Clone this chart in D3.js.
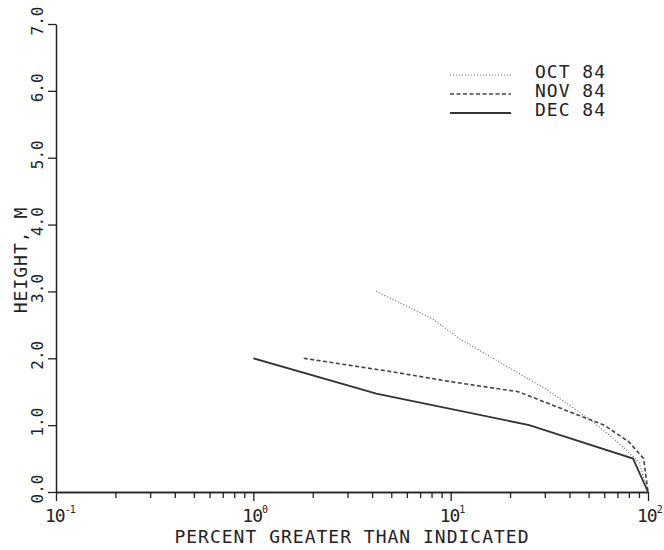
<!DOCTYPE html>
<html>
<head>
<meta charset="utf-8">
<script src="https://cdn.jsdelivr.net/npm/d3@7"></script>
<style>
body { margin: 0; background: #fff; }
text { font-family: "DejaVu Sans Mono", monospace; fill: #222; }
</style>
</head>
<body>
<script>
// values (percent greater than indicated, height in m)
var octPct = [4.2, 8, 11, 20, 30, 50, 70, 90, 100];
var octHt = [3.0, 2.6, 2.3, 1.85, 1.55, 1.1, 0.75, 0.45, 0.0];
var novPct = [1.8, 5, 10, 22, 40, 60, 80, 95, 100];
var novHt = [2.0, 1.8, 1.65, 1.5, 1.2, 1.0, 0.75, 0.5, 0.0];
var decPct = [1.0, 4.2, 25, 84, 100];
var decHt = [2.0, 1.47, 1.0, 0.5, 0.0];
var seriesNames = ['OCT 84', 'NOV 84', 'DEC 84'];
var yTicks = [0, 1, 2, 3, 4, 5, 6, 7];
var xMajor = [0.1, 1, 10, 100];
var xExp = ['-1', '0', '1', '2'];

var width = 664;
var height = 550;

var x = d3.scaleLog()
    .domain([0.1, 100])
    .range([56, 648]);

var y = d3.scaleLinear()
    .domain([0, 7])
    .range([492, 24]);

var svg = d3.select("body").append("svg")
    .attr("width", width).attr("height", height);

// minor ticks for the log axis
var xMinor = [];
[0.1, 1, 10].forEach(function (base) {
    for (var k = 2; k <= 9; k++) xMinor.push(base * k);
});

var axisStyle = function (g) {
    g.select(".domain").attr("stroke", "#222").attr("stroke-width", 1.5);
    g.selectAll(".tick line").attr("stroke", "#222").attr("stroke-width", 1.3);
};

svg.append("g")
    .attr("transform", "translate(0," + y(0) + ")")
    .call(d3.axisBottom(x).tickValues(xMinor).tickSize(6).tickFormat("").tickSizeOuter(0))
    .call(axisStyle);

svg.append("g")
    .attr("transform", "translate(0," + y(0) + ")")
    .call(d3.axisBottom(x).tickValues(xMajor).tickSize(9).tickFormat("").tickSizeOuter(0))
    .call(axisStyle);

svg.append("g")
    .attr("transform", "translate(" + x(0.1) + ",0)")
    .call(d3.axisLeft(y).tickValues(yTicks).tickSize(8).tickFormat("").tickSizeOuter(0))
    .call(axisStyle);

// x tick labels with superscripts
var xl = svg.append("g").selectAll("text").data(xMajor).enter().append("text")
    .attr("x", function (d) { return x(d) - 11; })
    .attr("y", 522)
    .attr("font-size", 18)
    .attr("letter-spacing", -1);
xl.append("tspan").text("10");
xl.append("tspan")
    .attr("font-size", 10)
    .attr("dy", -9)
    .text(function (d, i) { return xExp[i]; });

// y tick labels, rotated
svg.append("g").selectAll("text").data(yTicks).enter().append("text")
    .attr("transform", function (d) { return "translate(43," + (y(d) - 3) + ") rotate(-90)"; })
    .attr("text-anchor", "middle")
    .attr("font-size", 16)
    .text(function (d) { return d3.format(".1f")(d); });

// axis titles
svg.append("text")
    .attr("x", 352).attr("y", 543)
    .attr("text-anchor", "middle")
    .attr("font-size", 18)
    .attr("letter-spacing", 1)
    .text("PERCENT GREATER THAN INDICATED");

svg.append("text")
    .attr("transform", "translate(27,260) rotate(-90)")
    .attr("text-anchor", "middle")
    .attr("font-size", 18)
    .attr("letter-spacing", 1)
    .text("HEIGHT, M");

var line = d3.line()
    .x(function (d) { return x(d[0]); })
    .y(function (d) { return y(d[1]); });

var styles = [
    { dash: "1,2", w: 1.1, c: "#666" },
    { dash: "4,2.5", w: 1.6, c: "#444" },
    { dash: null, w: 1.8, c: "#333" }
];
var series = [d3.zip(octPct, octHt), d3.zip(novPct, novHt), d3.zip(decPct, decHt)];

series.forEach(function (s, i) {
    svg.append("path")
        .attr("d", line(s))
        .attr("fill", "none")
        .attr("stroke", styles[i].c)
        .attr("stroke-width", styles[i].w)
        .attr("stroke-dasharray", styles[i].dash);
});

// legend
var legendY = [75, 94, 113];
seriesNames.forEach(function (name, i) {
    svg.append("line")
        .attr("x1", 450).attr("x2", 511)
        .attr("y1", legendY[i]).attr("y2", legendY[i])
        .attr("stroke", styles[i].c)
        .attr("stroke-width", styles[i].w)
        .attr("stroke-dasharray", styles[i].dash);
    svg.append("text")
        .attr("x", 535).attr("y", legendY[i] + 3)
        .attr("font-size", 18)
        .attr("letter-spacing", 1)
        .text(name);
});
</script>
</body>
</html>
